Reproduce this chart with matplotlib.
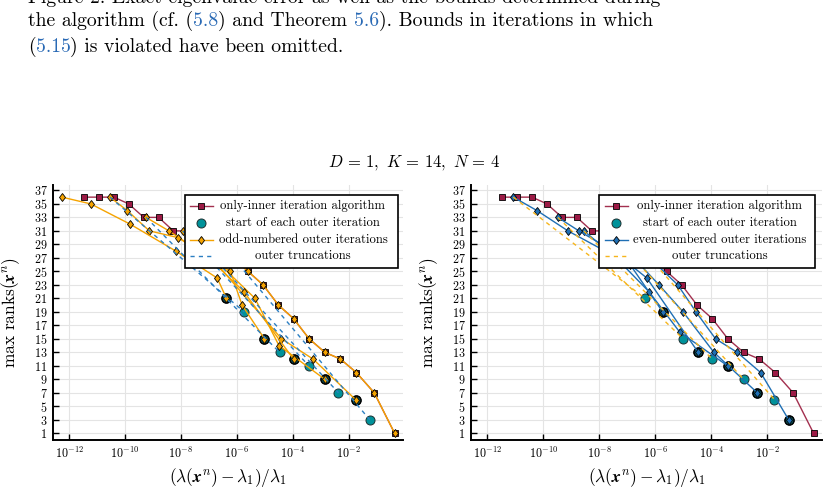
import matplotlib
matplotlib.use("Agg")
import matplotlib.pyplot as plt
import numpy as np
from matplotlib.lines import Line2D
from matplotlib.mathtext import MathTextParser
from matplotlib.patches import Rectangle
from matplotlib.ticker import FixedLocator, NullLocator

plt.rcParams['font.family'] = ['cmr10', 'DejaVu Serif']
plt.rcParams['mathtext.fontset'] = 'cm'
plt.rcParams['axes.formatter.use_mathtext'] = True

# errors are stored as log10 of (lambda(x^n) - lambda_1) / lambda_1
inner_err = [-11.47, -10.94, -10.40, -9.87, -9.33, -8.80, -8.27, -7.74, -7.20, -6.67, -6.13,
             -5.60, -5.06, -4.51, -3.97, -3.41, -2.85, -2.29, -1.72, -1.08, -0.35]
inner_rank = [36, 36, 36, 35, 33, 33, 31, 31, 29, 28, 27, 25, 23, 20, 18, 15, 13, 12, 10, 7, 1]

start_err = [-6.37, -5.74, -5.01, -4.47, -3.97, -3.42, -2.85, -2.36, -1.75, -1.24]
start_rank = [21, 19, 15, 13, 12, 11, 9, 7, 6, 3]

# outer iterations 1, 3, 5, 7, 9, 11
odd_err = [
    [-0.35, -1.08, -1.72, -2.29, -2.85, -3.41, -3.97, -4.51, -5.06, -5.60, -6.13],
    [-1.75, -3.27, -4.40, -6.90, -7.50],
    [-2.85, -4.49, -5.35, -6.60, -7.94],
    [-3.97, -5.75, -7.00, -8.43, -9.25],
    [-5.01, -5.81, -6.23, -8.10, -9.13, -9.92, -10.54],
    [-6.37, -6.70, -8.18, -9.82, -11.23, -12.26],
]
odd_rank = [
    [1, 7, 10, 12, 13, 15, 18, 20, 23, 25, 27],
    [6, 12, 15, 27, 30],
    [9, 14, 21, 26, 31],
    [12, 22, 27, 31, 33],
    [15, 20, 25, 30, 31, 34, 36],
    [21, 24, 28, 32, 35, 36],
]

# outer iterations 2, 4, 6, 8, 10
even_err = [
    [-1.24, -2.24, -3.08, -3.85, -4.55, -5.20, -6.20],
    [-2.36, -3.91, -5.01, -5.87, -7.00],
    [-3.42, -5.13, -6.23, -7.40, -8.55],
    [-4.47, -6.30, -7.50, -8.73, -9.48],
    [-5.74, -6.90, -9.12, -10.22, -11.07],
]
even_rank = [
    [3, 10, 13, 15, 19, 23, 27],
    [7, 13, 19, 23, 28],
    [11, 16, 22, 27, 31],
    [13, 24, 28, 31, 33],
    [19, 26, 31, 34, 36],
]

x_tick_exp = [-12, -10, -8, -6, -4, -2]
y_ticks = list(range(1, 38, 2))

RED_FACE = '#9c1a45'
RED_LINE = '#a3304f'
TEAL = '#00929a'
ORANGE = '#f5a300'
BLUE = '#1f6fb4'
BLUE_DASH = '#2c7fc2'
YELLOW_DASH = '#f6b51c'

# bold italic x if this mathtext knows \boldsymbol, else upright bold
try:
    MathTextParser('agg').parse(r'$\boldsymbol{x}$', dpi=100)
    BX = r'\boldsymbol{x}'
except Exception:
    BX = r'\mathbf{x}'

W, H = 829, 490
fig = plt.figure(figsize=(W / 100, H / 100), dpi=100)
fig.patch.set_facecolor('white')


def px_axes(x0, x1, y0, y1):
    return fig.add_axes([x0 / W, 1 - y1 / H, (x1 - x0) / W, (y1 - y0) / H])


ax_l = px_axes(53, 403, 185, 440)
ax_r = px_axes(471, 822, 185, 440)


def e(v):
    return 10.0 ** np.asarray(v)


def style_axes(ax):
    ax.set_xscale('log')
    ax.set_xlim(10 ** -12.58, 10 ** -0.05)
    ax.set_ylim(0, 37.8)
    ax.xaxis.set_major_locator(FixedLocator(e(x_tick_exp)))
    ax.xaxis.set_minor_locator(NullLocator())
    ax.set_yticks(y_ticks)
    ax.grid(True, color='#e4e4e4', lw=0.8)
    ax.set_axisbelow(True)
    for s in ['top', 'right']:
        ax.spines[s].set_visible(False)
    for s in ['left', 'bottom']:
        ax.spines[s].set_linewidth(1.4)
    ax.tick_params(direction='in', length=4, width=1, labelsize=8.7, pad=4)
    ax.set_xlabel(r'$(\lambda(%s^n) - \lambda_1)/\lambda_1$' % BX, fontsize=12.5)
    ax.set_ylabel(r'max ranks$(%s^n)$' % BX, fontsize=12.5)


def draw_panel(ax, chains_e, chains_r, col, face, ring_from, trunc_pairs, dash_col):
    style_axes(ax)
    ax.plot(e(inner_err), inner_rank, color=RED_LINE, lw=1.0, marker='s', ms=5,
            mfc=RED_FACE, mec='black', mew=0.6, zorder=3)
    ax.plot(e(start_err), start_rank, ls='none', marker='o', ms=6.5,
            mfc=TEAL, mec='#1d3030', mew=0.7, zorder=4)
    for ce, cr in zip(chains_e[ring_from:], chains_r[ring_from:]):
        ax.plot(e(ce[:1]), cr[:1], ls='none', marker='o', ms=6.5,
                mfc='#0b5f66', mec='black', mew=1.1, zorder=4.5)
    for ce, cr in zip(chains_e, chains_r):
        ax.plot(e(ce), cr, color=col, lw=1.0, marker='d', ms=4.3,
                mfc=face, mec='black', mew=0.6, zorder=5)
    for (e0, r0), (e1, r1) in trunc_pairs:
        ax.plot(e([e0, e1]), [r0, r1], color=dash_col, lw=1.0,
                ls=(0, (3, 3)), zorder=6)


left_trunc = [((odd_err[i][-1], odd_rank[i][-1]), (even_err[i][0], even_rank[i][0]))
              for i in range(len(even_err))]
right_trunc = [((even_err[i][-1], even_rank[i][-1]), (odd_err[i + 1][0], odd_rank[i + 1][0]))
               for i in range(len(even_err))]

draw_panel(ax_l, odd_err, odd_rank, ORANGE, ORANGE, 1, left_trunc, BLUE_DASH)
draw_panel(ax_r, even_err, even_rank, BLUE, BLUE, 0, right_trunc, YELLOW_DASH)

ax_l.yaxis.set_label_coords(-0.089, 0.5)
ax_r.yaxis.set_label_coords(-0.088, 0.5)
for ax in (ax_l, ax_r):
    ax.xaxis.set_label_coords(0.5, -0.1)


def legend_box(ax, box, hx, tx, rows):
    x0, x1, y0, y1 = box
    ax.add_patch(Rectangle((x0, y0), x1 - x0, y1 - y0, transform=ax.transAxes,
                           fc='white', ec='black', lw=1.2, zorder=10, clip_on=False))
    for yy, (label, kw, marker_kw) in rows:
        if kw is not None:
            ax.add_line(Line2D(hx, [yy, yy], transform=ax.transAxes, zorder=11, **kw))
        if marker_kw is not None:
            ax.add_line(Line2D([np.mean(hx)], [yy], transform=ax.transAxes, ls='none',
                               zorder=12, **marker_kw))
        ax.text(tx, yy, label, transform=ax.transAxes, ha='center', va='center',
                fontsize=9.1, zorder=12)


row_y = [0.918, 0.851, 0.784, 0.720]
red_kw = dict(color=RED_LINE, lw=1.0)
red_m = dict(marker='s', ms=5, mfc=RED_FACE, mec='black', mew=0.6)
teal_m = dict(marker='o', ms=6.5, mfc=TEAL, mec='#1d3030', mew=0.7)

legend_box(ax_l, (0.377, 0.986, 0.675, 0.961), [0.391, 0.457], 0.714, [
    (row_y[0], ('only-inner iteration algorithm', red_kw, red_m)),
    (row_y[1], ('start of each outer iteration', None, teal_m)),
    (row_y[2], ('odd-numbered outer iterations', dict(color=ORANGE, lw=1.0),
                dict(marker='d', ms=4.3, mfc=ORANGE, mec='black', mew=0.6))),
    (row_y[3], ('outer truncations', dict(color=BLUE_DASH, lw=1.0, ls=(0, (3, 3))), None)),
])
legend_box(ax_r, (0.365, 0.980, 0.675, 0.961), [0.382, 0.447], 0.709, [
    (row_y[0], ('only-inner iteration algorithm', red_kw, red_m)),
    (row_y[1], ('start of each outer iteration', None, teal_m)),
    (row_y[2], ('even-numbered outer iterations', dict(color=BLUE, lw=1.0),
                dict(marker='d', ms=4.3, mfc=BLUE, mec='black', mew=0.6))),
    (row_y[3], ('outer truncations', dict(color=YELLOW_DASH, lw=1.0, ls=(0, (3, 3))), None)),
])

fig.text(0.5, 1 - 163 / H, r'$D\,=\,1,\ K\,=\,14,\ N\,=\,4$', ha='center', va='center',
         fontsize=12)

# caption fragment from the paper above the figure
CAP_SIZE = 14.2
LINK = '#2a6ab5'
renderer = fig.canvas.get_renderer()


def text_width(s):
    t = fig.text(0, 0, s, fontsize=CAP_SIZE)
    w = t.get_window_extent(renderer).width
    t.remove()
    return w


def caption_line(parts, x_px, base_px):
    prefix = ''
    for s, c in parts:
        off = text_width(prefix + s) - text_width(s) if prefix else 0
        fig.text((x_px + off) / W, 1 - base_px / H, s, fontsize=CAP_SIZE,
                 va='baseline', color=c)
        prefix += s


caption_line([('Figure 2. Exact eigenvalue error as well as the bounds determined during', 'black')], 28, 3)
caption_line([('the algorithm (cf. (', 'black'), ('5.8', LINK), (') and Theorem ', 'black'),
              ('5.6', LINK), ('). Bounds in iterations in which', 'black')], 28, 26)
caption_line([('(', 'black'), ('5.15', LINK), (') is violated have been omitted.', 'black')], 28, 52)

fig.savefig('out.png', dpi=100)
